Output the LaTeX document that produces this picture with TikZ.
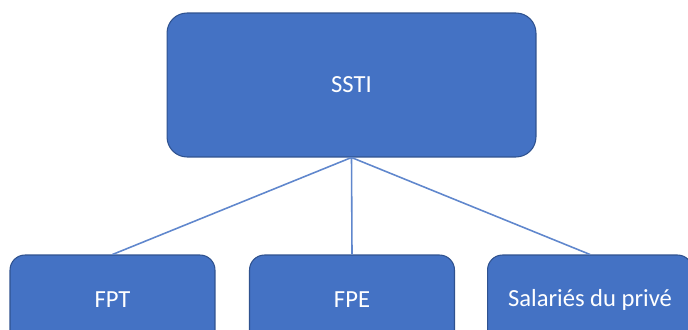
\documentclass[tikz,border=0pt]{standalone}
\usepackage{fontspec}
\setmainfont{Carlito}
\usetikzlibrary{shapes}

\definecolor{boxfill}{HTML}{4472C4}
\definecolor{boxline}{HTML}{2F528F}

\begin{document}
\begin{tikzpicture}[x=0.02cm,y=-0.02cm,
    box/.style={shape=rectangle,fill=boxfill,draw=boxline,line width=0.6pt,
        text=white,inner sep=0pt,align=center},
    bigbox/.style={box,minimum width=7.38cm,minimum height=2.88cm,
        rounded corners=0.4cm,font=\fontsize{14}{16}\selectfont},
    smallbox/.style={box,minimum width=4.1cm,minimum height=1.8cm,
        rounded corners=0.3cm,font=\fontsize{14}{16}\selectfont}]
                \useasboundingbox (0, 0) rectangle (688, 330);
                \clip (0, 0) rectangle (688, 330);
                \node[bigbox](SSTI)at(351.5, 85){SSTI};
                \node[smallbox](FPT)at(112.5, 300){FPT};
                \node[smallbox](FPE)at(352, 300){FPE};
                \node[smallbox](Prive)at(590, 300){Salariés du privé};
                \path[draw=boxfill!85!white,line width=0.9pt](SSTI.south) edge (FPT.north)
                (SSTI.south) edge (FPE.north)
                (SSTI.south) edge (Prive.north);
            \end{tikzpicture}
\end{document}
